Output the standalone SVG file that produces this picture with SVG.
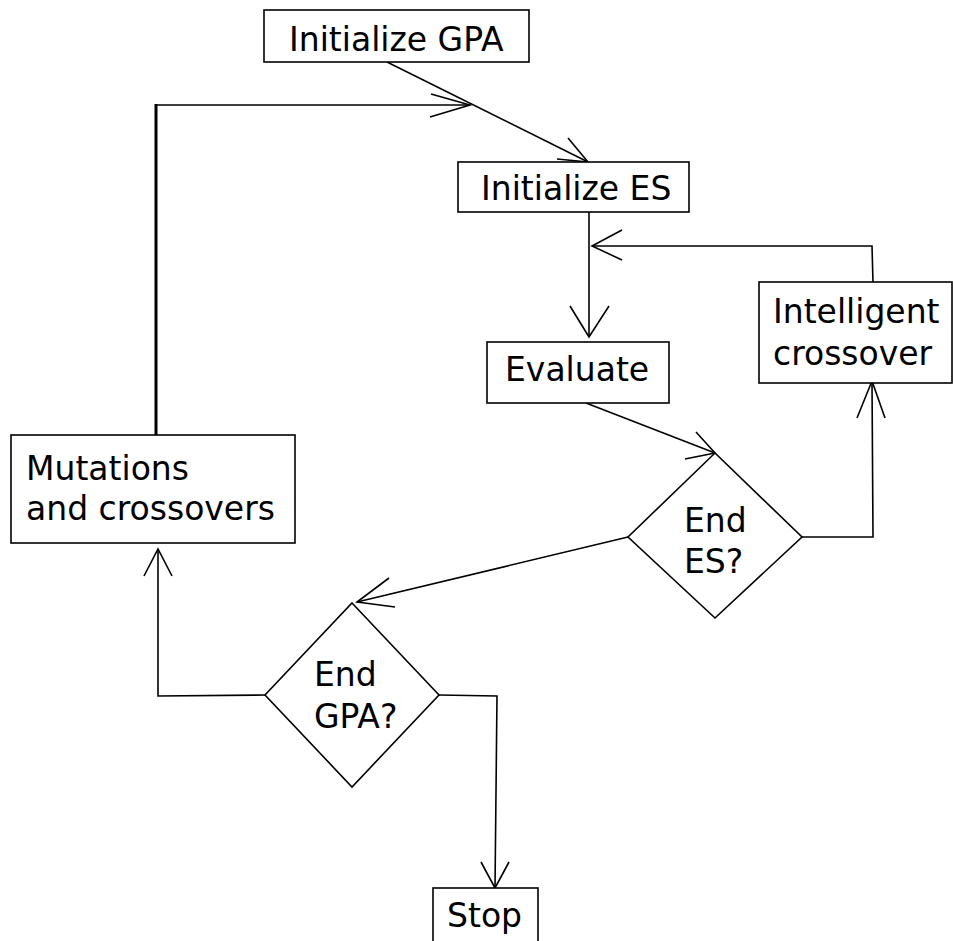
<svg xmlns="http://www.w3.org/2000/svg" width="953" height="941" viewBox="0 0 953 941">
<style>
.box{fill:#fff;stroke:#000;stroke-width:1.6}
.t{font-family:"DejaVu Sans",sans-serif;font-size:33px;fill:#000}
.c{fill:none;stroke:#000;stroke-width:1.6;stroke-linejoin:miter}
</style>
<rect width="953" height="941" fill="#fff"/>
<g id="connectors">
<path class="c" d="M387,62 L588,162"/>
<path class="c" d="M568,138 L588,162 L557,159"/>
<path class="c" style="stroke-width:3" d="M156,435 L156,104"/>
<path class="c" d="M155,105 L470,105"/>
<path class="c" d="M431,94 L470,105 L430,117"/>
<path class="c" d="M589,212 L589,337"/>
<path class="c" d="M570,306 L589,337 L609,306"/>
<path class="c" d="M873,282 L872,246 L592,246"/>
<path class="c" d="M622,230 L592,246 L622,260"/>
<path class="c" d="M586,403 L715,453"/>
<path class="c" d="M696,432 L715,453 L685,459"/>
<path class="c" d="M802,537 L873,537 L872,381"/>
<path class="c" d="M857,418 L872,381 L885,418"/>
<path class="c" d="M628,537 L357,602"/>
<path class="c" d="M389,578 L357,602 L395,607"/>
<path class="c" d="M265,695 L158,696 L158,549"/>
<path class="c" d="M144,576 L158,549 L172,576"/>
<path class="c" d="M439,695 L497,696 L495,888"/>
<path class="c" d="M481,862 L495,888 L509,862"/>
</g>
<g id="initGPA">
<rect class="box" x="264" y="10" width="265" height="52"/>
<text class="t" x="289" y="51">Initialize GPA</text>
</g>
<g id="initES">
<rect class="box" x="458" y="162" width="231" height="50"/>
<text class="t" x="481" y="200">Initialize ES</text>
</g>
<g id="evaluate">
<rect class="box" x="487" y="342" width="182" height="61"/>
<text class="t" x="505" y="381">Evaluate</text>
</g>
<g id="intelligent">
<rect class="box" x="759" y="282" width="193" height="101"/>
<text class="t" x="773" y="323">Intelligent</text>
<text class="t" x="773" y="365">crossover</text>
</g>
<g id="mutations">
<rect class="box" x="11" y="435" width="284" height="108"/>
<text class="t" x="26" y="480">Mutations</text>
<text class="t" x="26" y="520">and crossovers</text>
</g>
<g id="endES">
<path class="box" d="M715,453 L802,537 L715,618 L628,537 Z"/>
<text class="t" x="684" y="532">End</text>
<text class="t" x="684" y="573">ES?</text>
</g>
<g id="endGPA">
<path class="box" d="M352,603 L439,695 L352,787 L265,695 Z"/>
<text class="t" x="314" y="686">End</text>
<text class="t" x="314" y="728">GPA?</text>
</g>
<g id="stop">
<rect class="box" x="433" y="888" width="105" height="60"/>
<text class="t" x="447" y="927">Stop</text>
</g>
</svg>
